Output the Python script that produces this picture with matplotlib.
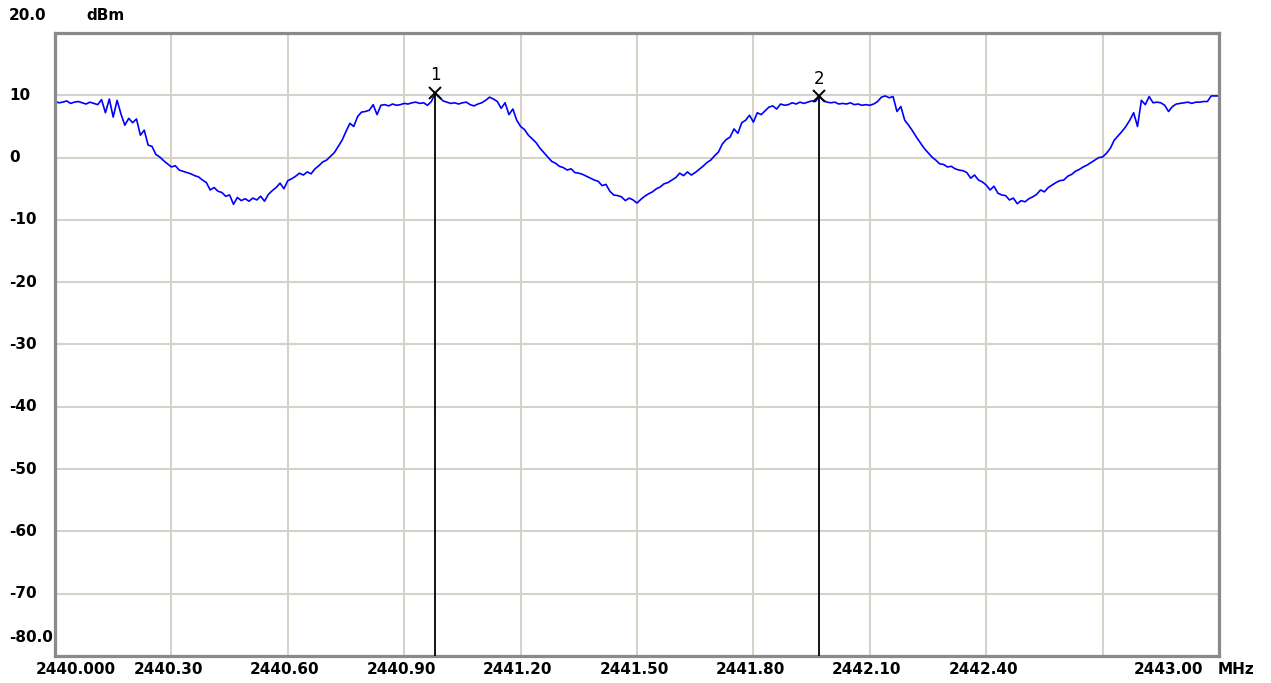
import matplotlib.pyplot as plt
import numpy as np
from matplotlib.transforms import blended_transform_factory, ScaledTranslation

plt.rcParams['font.family'] = ['DejaVu Sans']

# trace: one reading every 0.01 MHz from 2440.00 to 2443.00 (dBm)
f_start = 2440.0
f_step = 0.01
level_dbm = [
    9.0, 8.8, 8.9, 9.1, 8.7, 8.9, 9.0, 8.8, 8.6, 8.9, 8.7,
    8.5, 9.3, 7.2, 9.4, 6.5, 9.2, 7.0, 5.2, 6.3,
    5.6, 6.2, 3.6, 4.4, 2.0, 1.8, 0.5, 0.1, -0.5, -1.0,
    -1.5, -1.3, -2.0, -2.2, -2.4, -2.6, -2.9, -3.1, -3.6, -4.0,
    -5.2, -4.8, -5.4, -5.6, -6.2, -6.0, -7.5, -6.4, -6.9, -6.6,
    -7.0, -6.5, -6.8, -6.2, -7.0, -5.9, -5.3, -4.8, -4.1, -5.0,
    -3.7, -3.4, -3.0, -2.5, -2.8, -2.3, -2.6, -1.8, -1.3, -0.7,
    -0.4, 0.2, 0.8, 1.8, 2.8, 4.2, 5.5, 5.0, 6.6, 7.3,
    7.4, 7.6, 8.5, 6.9, 8.4, 8.5, 8.3, 8.6, 8.4, 8.5,
    8.7, 8.6, 8.8, 8.9, 8.7, 8.8, 8.4, 9.0, 10.4, 9.8,
    9.1, 8.9, 8.7, 8.8, 8.6, 8.8, 8.9, 8.5, 8.3, 8.6,
    8.8, 9.2, 9.7, 9.4, 9.0, 7.9, 8.8, 6.9, 7.8, 6.0,
    5.0, 4.5, 3.6, 3.0, 2.4, 1.5, 0.8, 0.1, -0.6, -0.9,
    -1.4, -1.6, -2.0, -1.8, -2.4, -2.5, -2.7, -3.0, -3.3, -3.6,
    -3.8, -4.5, -4.3, -5.4, -6.0, -6.1, -6.3, -6.9, -6.5, -6.8,
    -7.3, -6.7, -6.2, -5.8, -5.5, -5.0, -4.7, -4.2, -4.0, -3.6,
    -3.2, -2.5, -2.9, -2.3, -2.8, -2.4, -1.9, -1.4, -0.8, -0.4,
    0.3, 0.9, 2.2, 2.9, 3.3, 4.6, 3.9, 5.6, 6.0, 6.8,
    5.7, 7.2, 6.9, 7.5, 8.1, 8.3, 7.8, 8.6, 8.4, 8.5,
    8.8, 8.6, 8.9, 8.7, 8.9, 9.1, 9.0, 9.9, 9.2, 8.9,
    8.8, 8.9, 8.6, 8.7, 8.6, 8.8, 8.5, 8.6, 8.4, 8.5,
    8.4, 8.6, 9.0, 9.7, 9.9, 9.6, 9.8, 7.4, 8.2, 6.0,
    5.2, 4.3, 3.3, 2.4, 1.5, 0.8, 0.1, -0.4, -1.0, -1.1,
    -1.5, -1.4, -1.8, -2.0, -2.1, -2.4, -3.3, -2.8, -3.6, -3.9,
    -4.4, -5.2, -4.6, -5.7, -6.0, -6.1, -6.8, -6.5, -7.4, -6.9,
    -7.1, -6.6, -6.3, -5.9, -5.2, -5.5, -4.8, -4.4, -4.0, -3.7,
    -3.6, -3.0, -2.7, -2.2, -1.9, -1.5, -1.2, -0.8, -0.4, 0.0,
    0.1, 0.7, 1.5, 2.8, 3.5, 4.2, 5.0, 6.0, 7.2, 5.0,
    9.2, 8.5, 9.8, 8.8, 8.9, 8.8, 8.4, 7.4, 8.2, 8.6,
    8.7, 8.8, 8.9, 8.7, 8.9, 8.9, 9.0, 9.0, 9.9, 9.9, 9.9,
]
freq_mhz = f_start + f_step * np.arange(len(level_dbm))

marker_ids = ['1', '2']
marker_freq = [2440.98, 2441.97]
marker_level = [10.4, 9.9]

x_grid = [2440.0 + 0.3 * k for k in range(11)]
x_labels = ['2440.000', '2440.30', '2440.60', '2440.90', '2441.20', '2441.50',
            '2441.80', '2442.10', '2442.40', '', '2443.00']
y_grid = [20, 10, 0, -10, -20, -30, -40, -50, -60, -70, -80]
y_labels = ['20.0', '10', '0', '-10', '-20', '-30', '-40', '-50', '-60', '-70', '-80.0']

FS = 11

fig = plt.figure(figsize=(12.71, 6.83), dpi=100)
ax = fig.add_axes([55 / 1271, 27 / 683, 1164 / 1271, 623 / 683])
ax.set_xlim(2440.0, 2443.0)
ax.set_ylim(-80, 20)

ax.set_xticks(x_grid)
ax.set_yticks(y_grid)
ax.set_xticklabels([])
ax.set_yticklabels([])
ax.tick_params(length=0)
ax.grid(True, color='#d6d2ca', linewidth=1.5)
ax.set_axisbelow(True)
for s in ax.spines.values():
    s.set_color('#8a8a8a')
    s.set_linewidth(2.3)

ax.plot(freq_mhz, level_dbm, color='#0000ff', linewidth=1.2)

for mid, mf, ml in zip(marker_ids, marker_freq, marker_level):
    ax.plot([mf, mf], [ml, -80], color='black', linewidth=1.3, zorder=4)
    ax.plot([mf], [ml], marker='x', color='black', markersize=8,
            markeredgewidth=1.4, zorder=5)
    ax.annotate(mid, (mf, ml), xytext=(0, 6), textcoords='offset points',
                ha='center', va='bottom', fontsize=12)

dpi_tr = fig.dpi_scale_trans
# x tick labels
tx = blended_transform_factory(ax.transData, fig.transFigure)
for xv, lab in zip(x_grid, x_labels):
    if not lab:
        continue
    if lab == x_labels[0]:
        tr = tx + ScaledTranslation(-19 / 100, 0, dpi_tr)
        ha = 'left'
    elif lab == x_labels[-1]:
        tr = tx + ScaledTranslation(-16 / 100, 0, dpi_tr)
        ha = 'right'
    else:
        tr = tx + ScaledTranslation(-3 / 100, 0, dpi_tr)
        ha = 'center'
    ax.text(xv, 13 / 683, lab, transform=tr, ha=ha, va='center',
            fontsize=FS, fontweight='bold')
fig.text(1218 / 1271, 13 / 683, 'MHz', ha='left', va='center',
         fontsize=FS, fontweight='bold')

# y tick labels
ty = blended_transform_factory(fig.transFigure, ax.transData)
for yv, lab in zip(y_grid, y_labels):
    if yv == y_grid[0]:
        tr = ty + ScaledTranslation(0, 17 / 100, dpi_tr)
    elif yv == y_grid[-1]:
        tr = ty + ScaledTranslation(0, 18 / 100, dpi_tr)
    else:
        tr = ty
    ax.text(9 / 1271, yv, lab, transform=tr, ha='left', va='center',
            fontsize=FS, fontweight='bold')
fig.text(86 / 1271, 1 - 16 / 683, 'dBm', ha='left', va='center',
         fontsize=FS, fontweight='bold')

fig.savefig('out.png', dpi=100)
